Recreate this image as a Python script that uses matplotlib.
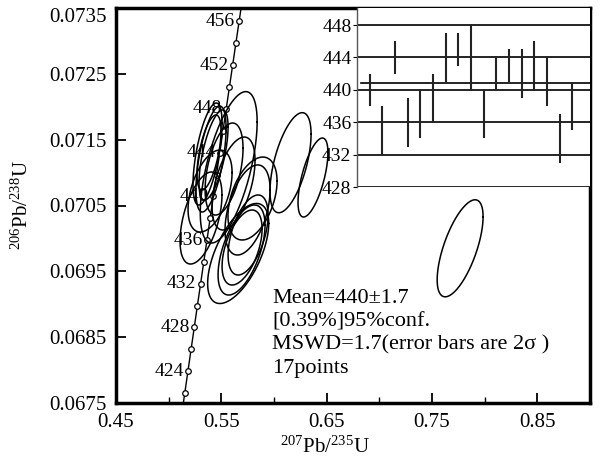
import numpy as np
import matplotlib
matplotlib.use("Agg")
import matplotlib.pyplot as plt

plt.rcParams['font.family'] = ['Liberation Serif', 'DejaVu Serif']
plt.rcParams['mathtext.fontset'] = 'custom'
plt.rcParams['mathtext.rm'] = 'Liberation Serif'

# concordia markers (Ma)
marker_ages = np.arange(422, 458, 2)
label_ages = np.arange(424, 460, 4)
lam238 = 1.55125e-10
lam235 = 9.8485e-10

# error ellipses: 207Pb/235U centre & half-width, 206Pb/238U centre & half-height, rho
ell_x = [0.5369, 0.5402, 0.5426, 0.5383, 0.5526, 0.5616, 0.5570, 0.5307, 0.5393,
         0.5796, 0.5749, 0.5660, 0.5692, 0.5697, 0.5754, 0.6157, 0.6370, 0.7767]
ell_sx = [0.0138, 0.0143, 0.0138, 0.0114, 0.0180, 0.0204, 0.0270, 0.0199, 0.0209,
          0.0233, 0.0214, 0.0290, 0.0223, 0.0190, 0.0190, 0.0195, 0.0142, 0.0218]
ell_y = [0.071282, 0.071206, 0.071267, 0.071305, 0.071054, 0.070834, 0.071080, 0.070310, 0.070720,
         0.070606, 0.070432, 0.069771, 0.069824, 0.069862, 0.070052, 0.071150, 0.070925, 0.069850]
ell_sy = [0.000775, 0.000805, 0.000684, 0.000570, 0.000699, 0.000706, 0.001150, 0.000699, 0.000623,
          0.000630, 0.000684, 0.000760, 0.000684, 0.000570, 0.000608, 0.000760, 0.000600, 0.000737]
ell_rho = [0.6, 0.58, 0.62, 0.58, 0.45, 0.5, 0.6, 0.5, 0.45,
           0.42, 0.45, 0.6, 0.55, 0.5, 0.5, 0.57, 0.63, 0.65]

# weighted mean inset: 2 sigma age ranges (Ma)
bar_low = [438, 432, 442, 433, 434, 436, 441, 443, 440, 434, 440, 441, 439, 440, 438, 431, 435]
bar_high = [442, 438, 446, 439, 440, 442, 447, 447, 448, 440, 444, 445, 445, 446, 444, 437, 441]
mean_age = 440.8

info = ["Mean=440\u00b11.7", "[0.39%]95%conf.", "MSWD=1.7(error bars are 2\u03c3 )", "17points"]

fig = plt.figure(figsize=(6.02, 4.57), dpi=100)
ax = fig.add_axes([116/602, 1-403/457, 474/602, 395/457])

# concordia
t = np.linspace(410e6, 470e6, 300)
ax.plot(np.exp(lam235*t)-1, np.exp(lam238*t)-1, color='k', lw=1)
tm = marker_ages*1e6
ax.plot(np.exp(lam235*tm)-1, np.exp(lam238*tm)-1, 'o', ms=4, mfc='white', mec='k', mew=0.9)
for a in label_ages:
    ax.annotate(str(a), (np.exp(lam235*a*1e6)-1, np.exp(lam238*a*1e6)-1),
                xytext=(-3, 0), textcoords='offset points', ha='right', va='center', fontsize=14)

# ellipses
th = np.linspace(0, 2*np.pi, 300)
for cx, sx, cy, sy, r in zip(ell_x, ell_sx, ell_y, ell_sy, ell_rho):
    ex = cx + sx*np.cos(th)
    ey = cy + sy*(r*np.cos(th) + np.sqrt(1-r**2)*np.sin(th))
    ax.plot(ex, ey, color='k', lw=1.1)

ax.set_xlim(0.45, 0.90)
ax.set_ylim(0.0675, 0.0735)
ax.set_xticks([0.45, 0.55, 0.65, 0.75, 0.85])
ax.set_xticks([0.50, 0.60, 0.70, 0.80], minor=True)
yv = np.arange(0.0675, 0.07351, 0.001)
ax.set_yticks(yv)
ax.set_xticklabels(['0.45', '0.55', '0.65', '0.75', '0.85'])
ax.set_yticklabels(['%.4f' % v for v in yv])
ax.get_yticklabels()[-1].set_va('top')
ax.tick_params(which='major', direction='in', length=7, width=1.3, labelsize=15, pad=7)
ax.tick_params(which='minor', direction='in', length=4, width=1)
for s in ax.spines.values():
    s.set_linewidth(2.5)
ax.set_xlabel(r'$\mathregular{^{207}Pb/^{235}U}$', fontsize=15)
ax.xaxis.set_label_coords(0.44, -0.085)
ax.set_ylabel(r'$\mathregular{^{206}Pb/^{238}U}$', fontsize=15)
ax.yaxis.set_label_coords(-0.175, 0.5)

ax.text(272/602, 1-289/457, "\n".join(info), transform=fig.transFigure,
        fontsize=16, va='top', ha='left', linespacing=1.3)

# inset weighted mean plot
ins = fig.add_axes([357/602, 1-187/457, 233/602, 179/457])
ins.set_xlim(0, 18.4)
ins.set_ylim(428, 450.1)
yt = np.arange(428, 449, 4)
ins.set_yticks(yt)
ins.set_xticks([])
for v in yt:
    ins.axhline(v, color='k', lw=1.2)
ins.axhline(mean_age, xmin=0.3/18.4, color='k', lw=1.2)
idx = np.arange(1, len(bar_low)+1)
ins.vlines(idx, bar_low, bar_high, color='#222222', lw=1.5)
ins.tick_params(axis='y', direction='out', length=3, labelsize=14, pad=1)
ins.spines['top'].set_visible(False)
ins.spines['right'].set_visible(False)
ins.spines['bottom'].set_visible(False)
ins.spines['left'].set_linewidth(1)
ins.spines['left'].set_color('#555555')

fig.savefig("out.png", dpi=100)
